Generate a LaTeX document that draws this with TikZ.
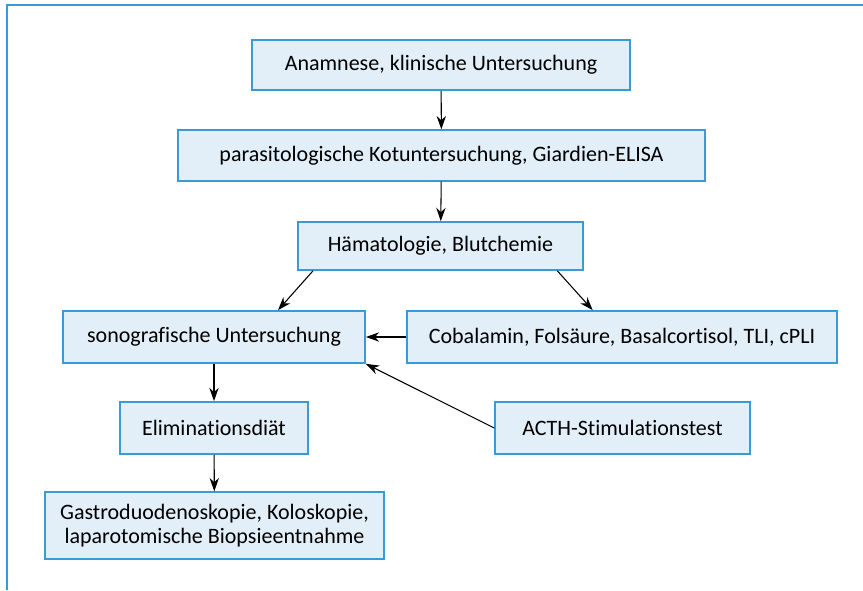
\documentclass[tikz,border=0pt]{standalone}
\usepackage{fontspec}
\setmainfont{Carlito}[Ligatures=NoCommon]
\usetikzlibrary{arrows.meta}

\definecolor{boxblue}{HTML}{3A9AD6}
\definecolor{boxfill}{HTML}{E2EEF8}

\tikzset{
  stepbox/.style={draw=boxblue, fill=boxfill, line width=1.3pt, inner sep=0pt,
    minimum height=37.5pt, align=center, font=\fontsize{16.5}{18.5}\selectfont},
  flow/.style={-{Stealth[length=10pt,width=7pt]}, line width=0.8pt},
}

\begin{document}
\begin{tikzpicture}[x=0.75pt,y=-0.75pt]
    % page and frame
    \useasboundingbox (0,0) rectangle (863,590);
    \draw[boxblue, line width=1.5pt] (7,590) -- (7,5) -- (863,5);

    % Draw the steps
    \node[stepbox, minimum width=283pt] (anam) at (441,65) {Anamnese, klinische Untersuchung};
    \node[stepbox, minimum width=395pt, minimum height=38pt] (paras) at (441.5,155.5) {parasitologische Kotuntersuchung, Giardien-ELISA};
    \node[stepbox, minimum width=214pt, minimum height=36pt] (haem) at (440.5,246) {Hämatologie, Blutchemie};
    \node[stepbox, minimum width=226.5pt, minimum height=39pt] (sono) at (214,337) {sonografische Untersuchung};
    \node[stepbox, minimum width=322.5pt, minimum height=39pt] (cobal) at (622,337) {Cobalamin, Folsäure, Basalcortisol, TLI, cPLI};
    \node[stepbox, minimum width=141pt, minimum height=39pt] (elim) at (214,428) {Eliminationsdiät};
    \node[stepbox, minimum width=191pt, minimum height=39pt] (acth) at (622.5,428) {ACTH-Stimulationstest};
    \node[stepbox, minimum width=254pt, minimum height=50pt] (gastro) at (214.5,525.5) {Gastroduodenoskopie, Koloskopie,\\laparotomische Biopsieentnahme};

    % Add the arrows
    \draw[flow] (anam) -- (paras);
    \draw[flow] (paras) -- (haem);
    \draw[flow] ([xshift=12pt]haem.south west) -- ([xshift=48pt]sono.north);
    \draw[flow] ([xshift=-20pt]haem.south east) -- ([xshift=-22pt]cobal.north);
    \draw[flow] (cobal.west) -- (sono.east);
    \draw[flow] (acth.west) -- (sono.south east);
    \draw[flow] (sono) -- (elim);
    \draw[flow] (elim) -- (gastro);
\end{tikzpicture}
\end{document}
